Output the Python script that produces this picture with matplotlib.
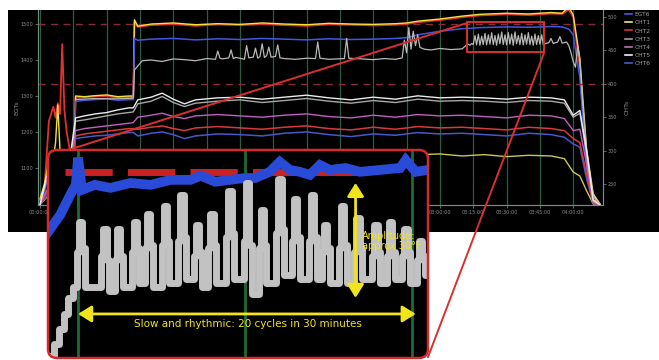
import matplotlib
matplotlib.use("Agg")
import matplotlib.pyplot as plt
from matplotlib.lines import Line2D
from matplotlib.patches import FancyBboxPatch, Rectangle
from matplotlib.transforms import IdentityTransform

W, H, DPI = 659, 360, 100

# ---- main trend data (minutes from start, deg F) ----
t_egt = [0, 2, 4, 6, 7, 8, 9, 10, 11, 12, 14, 15.5, 16, 20, 25, 30, 35, 40, 42, 42.5,
         44, 50, 60, 70, 80, 90, 100, 110, 120, 130, 140, 150, 160, 165, 170, 180, 190, 198,
         210, 220, 230, 235, 238, 240, 243, 246, 249, 252]
egt_yellow = [1014, 1056, 1120, 1125, 1170, 1275, 1150, 1140, 1135, 1140, 1150, 1155, 1300, 1298,
              1301, 1303, 1298, 1300, 1300, 1512, 1494, 1500, 1503, 1498, 1501, 1499, 1503, 1500,
              1498, 1502, 1500, 1499, 1501, 1503, 1508, 1514, 1522, 1527, 1530, 1528, 1532, 1530,
              1548, 1525, 1403, 1153, 1028, 1000]
egt_red = [1010, 1040, 1230, 1270, 1240, 1280, 1250, 1444, 1260, 1200, 1130, 1150, 1295, 1296,
           1299, 1300, 1295, 1297, 1297, 1505, 1492, 1497, 1500, 1495, 1499, 1497, 1500, 1497,
           1495, 1499, 1498, 1496, 1498, 1500, 1505, 1511, 1519, 1524, 1527, 1525, 1529, 1528,
           1540, 1520, 1380, 1120, 1020, 1000]
egt6 = [1005, 1030, 1090, 1110, 1120, 1130, 1125, 1130, 1140, 1145, 1150, 1160, 1285, 1288,
        1290, 1292, 1288, 1290, 1290, 1460, 1455, 1458, 1460, 1456, 1459, 1457, 1460, 1458,
        1456, 1459, 1457, 1458, 1460, 1462, 1470, 1480, 1487, 1490, 1492, 1491, 1493, 1492,
        1486, 1470, 1350, 1100, 1010, 1000]

gray_t = [16, 25, 35, 42, 42.5, 46, 50, 55, 60, 65, 70, 75, 79, 80, 81, 82, 85, 86, 87, 88,
          90, 92, 93, 94, 96, 97, 98, 99, 100, 101, 102, 103, 104, 106, 107, 108, 110, 115, 120,
          124, 125, 126, 130, 137, 138, 139, 145, 150, 155, 160, 163, 164, 165, 166, 167, 168,
          169, 170, 171, 173, 176, 180, 185, 190,
          192, 192.8, 193.5, 194.3, 195, 195.8, 196.5, 197.3, 198, 198.8, 199.5, 200.3, 201,
          201.8, 202.5, 203.3, 204, 204.8, 205.5, 206.3, 207, 207.8, 208.5, 209.3, 210, 210.8,
          211.5, 212.3, 213, 213.8, 214.5, 215.3, 216, 216.8, 217.5, 218.3, 219, 219.8, 220.5,
          221.3, 222, 222.8, 223.5, 224.3, 225, 225.8, 226.5,
          227, 229, 230, 231, 233, 234, 235, 237, 238, 239, 240, 241, 242, 243, 244, 246, 248,
          250, 252]
gray_v = [1290, 1293, 1292, 1294, 1372, 1398, 1400, 1396, 1403, 1401, 1398, 1404, 1402, 1425,
          1405, 1403, 1406, 1428, 1404, 1407, 1405, 1402, 1440, 1406, 1408, 1433, 1405, 1410,
          1445, 1407, 1412, 1436, 1408, 1410, 1442, 1406, 1404, 1402, 1405, 1404, 1450, 1405,
          1402, 1404, 1460, 1405, 1403, 1401, 1404, 1402, 1406, 1455, 1420, 1490, 1430, 1480,
          1440, 1470, 1435, 1430, 1428, 1432, 1429, 1431,
          1442, 1444, 1441, 1446, 1443, 1468, 1442, 1472, 1441, 1466, 1443, 1474, 1442, 1470,
          1444, 1476, 1443, 1468, 1441, 1472, 1445, 1478, 1443, 1470, 1442, 1476, 1444, 1472,
          1441, 1478, 1445, 1468, 1443, 1474, 1442, 1470, 1444, 1476, 1443, 1466, 1441, 1472,
          1443, 1468, 1444, 1470, 1443,
          1445, 1448, 1460, 1446, 1450, 1465, 1447, 1450, 1440, 1420, 1395, 1380, 1440, 1400,
          1300, 1150, 1050, 1010, 1000]

t_cht = [0, 3, 8, 14, 16, 20, 25, 30, 35, 40, 42, 44, 50, 55, 60, 65, 70, 80, 90, 100, 110,
         120, 130, 140, 150, 160, 170, 180, 190, 200, 210, 220, 230, 236, 240, 243, 246, 249, 252]
cht1 = [219, 230, 245, 262, 285, 287, 288, 289, 290, 291, 291, 292, 293, 294, 292, 290, 293,
        294, 292, 291, 293, 294, 292, 290, 293, 291, 294, 295, 292, 294, 291, 293, 292, 288,
        268, 262, 240, 220, 219]
cht2 = [219, 236, 255, 275, 322, 325, 327, 329, 331, 333, 333, 332, 335, 337, 333, 330, 334,
        336, 334, 332, 335, 337, 333, 331, 335, 332, 336, 334, 335, 333, 331, 335, 333, 330,
        318, 312, 265, 221, 219]
cht3 = [219, 255, 280, 296, 344, 346, 349, 352, 355, 357, 358, 370, 374, 381, 372, 366, 371,
        374, 376, 372, 375, 378, 374, 371, 375, 372, 377, 374, 375, 374, 372, 375, 374, 371,
        350, 356, 295, 224, 219]
cht4 = [219, 240, 262, 280, 330, 333, 335, 337, 339, 341, 342, 350, 353, 356, 351, 348, 352,
        354, 352, 350, 353, 355, 351, 349, 353, 350, 354, 352, 353, 351, 349, 353, 352, 348,
        330, 332, 280, 222, 219]
cht5 = [219, 262, 286, 301, 349, 352, 355, 357, 361, 364, 364, 376, 380, 386, 377, 370, 376,
        379, 380, 377, 380, 383, 379, 376, 380, 377, 382, 379, 380, 379, 377, 380, 379, 376,
        353, 360, 301, 226, 219]
cht6 = [219, 232, 250, 268, 318, 320, 322, 323, 325, 327, 327, 322, 326, 328, 324, 318, 322,
        325, 324, 322, 326, 328, 324, 321, 325, 323, 327, 325, 326, 324, 322, 326, 324, 320,
        310, 305, 258, 221, 219]

# ---- zoomed 30 minute window ----
zoom_gray_t = [192.3, 192.8, 193.3, 193.7, 194.1, 194.5,
               194.9, 195.08, 195.38, 195.6, 197.1, 197.28, 197.58, 197.8,
               198.3, 198.48, 198.78, 199.0, 199.8, 199.98, 200.28, 200.5,
               201.0, 201.18, 201.48, 201.7, 202.5, 202.68, 202.98, 203.2,
               204.0, 204.18, 204.48, 204.7, 205.4, 205.58, 205.88, 206.1,
               206.7, 206.88, 207.18, 207.4, 208.3, 208.48, 208.78, 209.0,
               209.9, 210.08, 210.38, 210.6, 211.2, 211.38, 211.68, 211.9,
               212.8, 212.98, 213.28, 213.5, 214.2, 214.38, 214.68, 214.9,
               215.7, 215.88, 216.18, 216.4, 216.9, 217.08, 217.38, 217.6,
               218.4, 218.58, 218.88, 219.1, 219.8, 219.98, 220.28, 220.5,
               221.4, 221.58, 221.88, 222.1, 222.7, 222.88, 223.18, 223.4,
               224.1, 224.28, 224.58, 224.8, 225.4, 225.58, 225.88, 226.1, 226.5]
zoom_gray_v = [1452, 1455, 1459, 1463, 1467, 1470,
               1479, 1487, 1480, 1470, 1478, 1485, 1477, 1469,
               1477, 1485, 1478, 1470, 1479, 1487, 1480, 1471,
               1480, 1489, 1481, 1470, 1481, 1491, 1482, 1471,
               1482, 1494, 1483, 1472, 1478, 1486, 1479, 1470,
               1480, 1489, 1481, 1471, 1483, 1495, 1484, 1472,
               1482, 1497, 1481, 1468, 1480, 1490, 1481, 1471,
               1484, 1498, 1485, 1473, 1482, 1493, 1483, 1472,
               1482, 1494, 1483, 1472, 1479, 1486, 1480, 1471,
               1480, 1491, 1481, 1471, 1479, 1488, 1480, 1472,
               1478, 1486, 1479, 1471, 1478, 1487, 1479, 1472,
               1478, 1485, 1479, 1471, 1477, 1482, 1478, 1473, 1474]
zoom_blue_t = [192.3, 193.4, 194.3, 194.8, 195.0, 195.35, 196.5, 197.9, 199.7, 201.5, 203.3,
               205.1, 206.0, 207.3, 208.6, 210.0, 210.9, 212.2, 213.1, 214.0, 214.9, 215.8,
               216.7, 217.6, 219.0, 220.3, 222.1, 223.9, 224.4, 225.3, 226.4]
zoom_blue_v = [1484.3, 1488.8, 1494.0, 1496.6, 1503.7, 1495.3, 1496.6, 1495.8, 1497.1, 1496.6,
               1497.9, 1497.9, 1499.0, 1497.4, 1497.9, 1498.4, 1498.4, 1500.0, 1502.6, 1500.5,
               1500.0, 1499.2, 1501.8, 1500.5, 1501.0, 1500.0, 1500.5, 1501.0, 1503.1, 1500.0,
               1500.5]

EGT_LIMIT = 1500
CHT_LIMIT = 400
legend_names = ["EGT6", "CHT1", "CHT2", "CHT3", "CHT4", "CHT5", "CHT6"]
legend_colors = ["#5a5ad8", "#e8e890", "#d83040", "#a0a0a0", "#c070b8", "#f2f2f2", "#4060c8"]

YEL = "#f2e41c"
TICK_C = "#8c8c8c"

fig = plt.figure(figsize=(W / DPI, H / DPI), dpi=DPI, facecolor="white")
px = IdentityTransform()

# black screenshot background
fig.add_artist(Rectangle((8, H - 232), W - 8, 222, transform=px,
                         facecolor="black", edgecolor="none", zorder=-1))

ax = fig.add_axes([38 / W, 1 - 205 / H, (603 - 38) / W, (205 - 10) / H])
ax.set_facecolor("black")
ax.set_zorder(0)
ax.set_xlim(-0.9, 253.4)
ax.set_ylim(997, 1539)
ticks = list(range(0, 241, 15))
ax.set_xticks(ticks)
ax.set_xticklabels([f"{m // 60:02d}:{m % 60:02d}:00" for m in ticks])
ax.set_yticks([1100, 1200, 1300, 1400, 1500])
ax.grid(axis="x", color="#2d5a40", lw=0.9)
ax.tick_params(colors=TICK_C, labelsize=3.6, length=2, width=0.5, pad=1.5)
for s in ax.spines.values():
    s.set_color("#6f8f80")
    s.set_linewidth(0.8)
ax.spines["top"].set_visible(False)
ax.set_ylabel("EGTs", color=TICK_C, fontsize=4.5, labelpad=1)

ax.axhline(EGT_LIMIT, color="#8a2a38", lw=1, ls=(0, (5, 4)))
ax.plot(t_egt, egt_red, color="#e03030", lw=1.3)
ax.plot(t_egt, egt_yellow, color="#f4e040", lw=1.0)
ax.plot(t_egt, egt6, color="#4058e0", lw=1.1)
ax.plot(gray_t, gray_v, color="#b8b8b8", lw=0.9)
ax.add_patch(Rectangle((192.2, 1422), 34.6, 84, facecolor="none",
                       edgecolor="#d83030", lw=1.4, zorder=5))

ax2 = ax.twinx()
ax2.set_ylim(218.6, 510.5)
ax2.set_yticks([250, 300, 350, 400, 450, 500])
ax2.tick_params(colors=TICK_C, labelsize=3.6, length=2, width=0.5, pad=1.5)
for s in ax2.spines.values():
    s.set_color("#6f8f80")
    s.set_linewidth(0.8)
ax2.spines["top"].set_visible(False)
ax2.set_ylabel("CHTs", color=TICK_C, fontsize=4.5, labelpad=5)
ax2.axhline(CHT_LIMIT, color="#8a2a38", lw=1, ls=(0, (5, 4)))
ax2.plot(t_cht, cht1, color="#c8c850", lw=1.0)
ax2.plot(t_cht, cht6, color="#4858c8", lw=1.1)
ax2.plot(t_cht, cht2, color="#d83a3a", lw=1.1)
ax2.plot(t_cht, cht4, color="#c060c0", lw=1.0)
ax2.plot(t_cht, cht3, color="#a8a8a8", lw=1.0)
ax2.plot(t_cht, cht5, color="#ececec", lw=1.0)

handles = [Line2D([], [], color=c, lw=1.2) for c in legend_colors]
fig.legend(handles, legend_names, loc="upper left", bbox_to_anchor=(625 / W, 1 - 12 / H),
           frameon=False, fontsize=4.3, labelcolor="#a0a0a0", handlelength=1.1,
           handletextpad=0.5, labelspacing=0.5, borderpad=0, borderaxespad=0)

# callout lines from the highlighted window to the zoom panel
fig.add_artist(Line2D([467, 62], [H - 23, H - 152], transform=px, color="#d83030",
                      lw=1.4, zorder=1))
fig.add_artist(Line2D([544, 428], [H - 53, H - 357], transform=px, color="#d83030",
                      lw=1.4, zorder=1))

# zoom panel
box = (48, H - 358)
bg = FancyBboxPatch(box, 380, 208, boxstyle="round,pad=0,rounding_size=9",
                    transform=px, facecolor="black", edgecolor="none", zorder=2)
fig.add_artist(bg)
axi = fig.add_axes([48 / W, 1 - 358 / H, 380 / W, 208 / H])
axi.set_zorder(3)
axi.patch.set_visible(False)
axi.set_xlim(192.3, 226.4)
axi.set_ylim(1451.4, 1505.7)
axi.axis("off")
lines = []
for m in (195, 210, 225):
    lines.append(axi.axvline(m, color="#1f6a35", lw=2))
lines += axi.plot([193.8, 220.5], [EGT_LIMIT, EGT_LIMIT], color="#c82222", lw=5,
                  ls=(0, (6.8, 2.2)))
lines += axi.plot(zoom_blue_t, zoom_blue_v, color="#2a4ad8", lw=7, solid_joinstyle="miter")
lines += axi.plot(zoom_gray_t, zoom_gray_v, color="#c2c2c2", lw=5, drawstyle="steps-post")
for ln in lines:
    ln.set_clip_path(bg)

arrow = dict(arrowstyle="<|-|>,head_length=0.8,head_width=0.5", color=YEL, lw=2,
             shrinkA=0, shrinkB=0)
axi.annotate("", xy=(219.9, 1497.1), xytext=(219.9, 1467.1), arrowprops=arrow)
axi.annotate("", xy=(195.0, 1462.9), xytext=(225.3, 1462.9), arrowprops=arrow)
axi.text(210.2, 1460.4, "Slow and rhythmic: 20 cycles in 30 minutes", color=YEL,
         fontsize=7.5, ha="center", va="center")
axi.text(220.5, 1482, "Amplitude:\napprox 30°F", color=YEL, fontsize=7,
         ha="left", va="center", linespacing=1.0)

fig.add_artist(FancyBboxPatch(box, 380, 208, boxstyle="round,pad=0,rounding_size=9",
                              transform=px, facecolor="none", edgecolor="#d42a2a",
                              lw=1.8, zorder=4))

fig.savefig("out.png", dpi=DPI)
